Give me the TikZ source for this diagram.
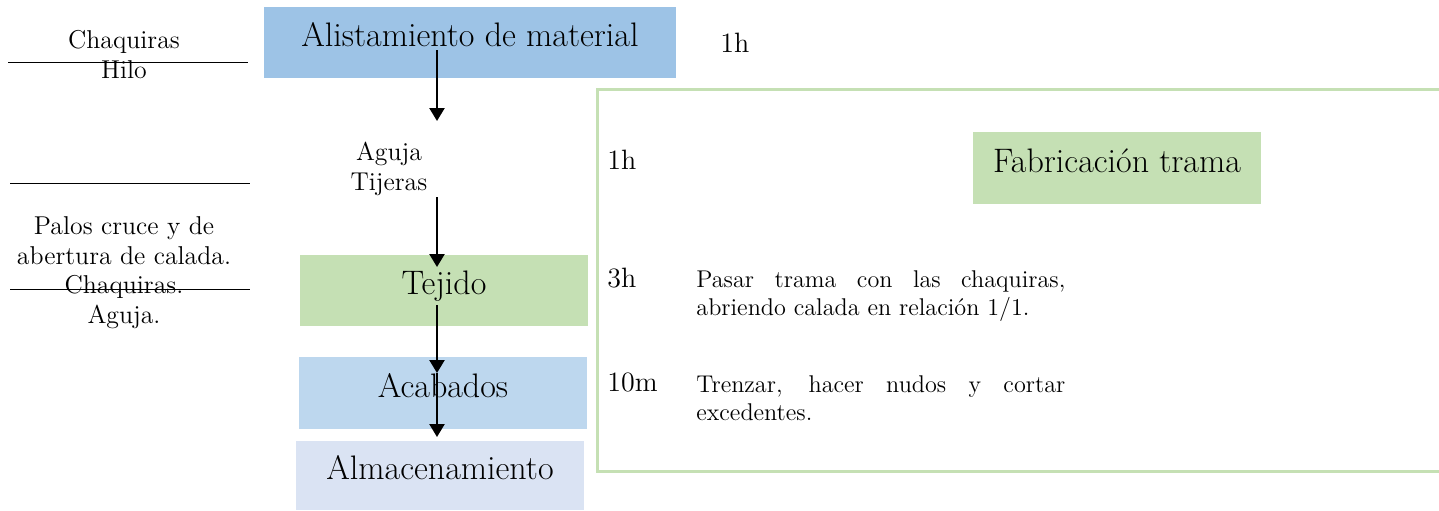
\documentclass[tikz,border=0pt]{standalone}
\usepackage{xcolor}
\usepackage{tikz}
\usetikzlibrary{arrows.meta, positioning}
\definecolor{azulA}{HTML}{9DC3E6}
\definecolor{azulB}{HTML}{BDD7EE}
\definecolor{azulC}{HTML}{DAE3F3}
\definecolor{verdeA}{HTML}{C5E0B4}
\tolerance=9999
\hyphenpenalty=10000

\begin{document}
\begin{tikzpicture}[x=0.5pt, y=-0.5pt,
    caja/.style={inner sep=0pt, text height=12pt, text depth=8pt, font=\fontsize{17}{20}\selectfont},
    texto/.style={inner sep=0pt, align=center, font=\fontsize{12.9}{14.9}\selectfont},
    hora/.style={inner sep=0pt, anchor=base west, font=\fontsize{14}{16}\selectfont},
    desc/.style={inner sep=0pt, anchor=north west, text width=184.5pt, align=justify, font=\fontsize{12.1}{14}\selectfont},
    flecha/.style={line width=1.2pt, -{Triangle[length=6.5pt,width=7.5pt]}}]
    \useasboundingbox (0,0) rectangle (1439,510);

    % Marco
    \draw[verdeA, line width=1.5pt] (1439,89) -- (597,89) -- (597,471) -- (1439,471);

    % Cajas
    \node[caja, fill=azulA, minimum width=206pt, minimum height=35.5pt] (alist) at (470,42.5) {Alistamiento de material};
    \node[caja, fill=verdeA, minimum width=144pt, minimum height=35.5pt] (tejido) at (444,290.5) {Tejido};
    \node[caja, fill=azulB, minimum width=144pt, minimum height=36pt] (acab) at (443,393) {Acabados};
    \node[caja, fill=azulC, minimum width=144pt, minimum height=34.5pt] (almac) at (440,475.5) {Almacenamiento};
    \node[caja, fill=verdeA, minimum width=144pt, minimum height=36pt] (fabric) at (1117,168) {Fabricación trama};

    % Materiales
    \node[texto, anchor=north] (mat1) at (124,30) {Chaquiras\\Hilo};
    \node[texto, anchor=north] (mat2) at (389,142) {Aguja\\Tijeras};
    \node[texto, anchor=north] (mat3) at (124,216) {Palos cruce y de\\abertura de calada.\\Chaquiras.\\Aguja.};
    \draw (8,62) -- (248,62);
    \draw (10,183) -- (250,183);
    \draw (10,289) -- (250,289);

    % Tiempos
    \node[hora] (t0) at (720,52) {1h};
    \node[hora] (t1) at (607,169) {1h};
    \node[hora] (t2) at (607,287) {3h};
    \node[hora] (t3) at (607,391) {10m};
    \node[desc] (d2) at (696,270) {Pasar trama con las chaquiras, abriendo calada en relación 1/1.};
    \node[desc] (d3) at (696,375) {Trenzar, hacer nudos y cortar excedentes.};

    % Flechas
    \coordinate (f1a) at (437,50);
    \coordinate (f1b) at (437,121);
    \coordinate (f2a) at (437,197);
    \coordinate (f2b) at (437,267);
    \coordinate (f3a) at (437,305);
    \coordinate (f3b) at (437,373);
    \coordinate (f4b) at (437,437);
    \draw[flecha] (f1a) -- (f1b);
    \draw[flecha] (f2a) -- (f2b);
    \draw[flecha] (f3a) -- (f3b);
    \draw[flecha] (f3b) -- (f4b);
\end{tikzpicture}
\end{document}
